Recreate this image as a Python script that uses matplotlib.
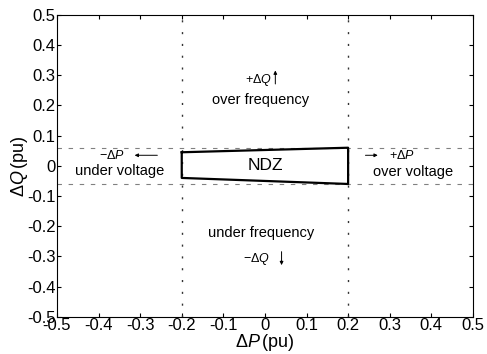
import matplotlib
matplotlib.use("Agg")
import matplotlib.pyplot as plt
import numpy as np

plt.rcParams['font.family'] = ['Liberation Sans', 'DejaVu Sans']
plt.rcParams['mathtext.fontset'] = 'custom'
plt.rcParams['mathtext.it'] = 'Liberation Sans:italic'
plt.rcParams['mathtext.rm'] = 'Liberation Sans'

# NDZ region corners (dP, dQ)
ndz_p = [-0.2, 0.2, 0.2, -0.2, -0.2]
ndz_q = [0.045, 0.06, -0.06, -0.04, 0.045]

# boundary lines
p_limits = [-0.2, 0.2]
q_limits = [0.06, -0.06]

ticks = [-0.5, -0.4, -0.3, -0.2, -0.1, 0, 0.1, 0.2, 0.3, 0.4, 0.5]
tick_labels = ['-0.5', '-0.4', '-0.3', '-0.2', '-0.1', '0', '0.1', '0.2', '0.3', '0.4', '0.5']

fig = plt.figure(figsize=(4.87, 3.54), dpi=100)
ax = fig.add_axes([0.117, 0.105, 0.854, 0.853])

for p in p_limits:
    ax.plot([p, p], [-0.5, 0.5], color='#333333', lw=1.0, linestyle=(0, (1.5, 7)))
for q in q_limits:
    ax.plot([-0.5, 0.5], [q, q], color='gray', lw=0.8, linestyle=(0, (4, 6)))

ax.plot(ndz_p, ndz_q, color='black', lw=1.6)

arrow = dict(arrowstyle='-|>', color='black', lw=0.7, mutation_scale=5)

ax.text(0, 0.0, 'NDZ', ha='center', va='center', fontsize=12.5)
ax.text(-0.015, 0.284, r'$+\Delta Q$', ha='center', va='center', fontsize=9)
ax.annotate('', xy=(0.025, 0.325), xytext=(0.025, 0.262), arrowprops=arrow)
ax.text(-0.01, 0.218, 'over frequency', ha='center', va='center', fontsize=10.5)
ax.text(-0.01, -0.221, 'under frequency', ha='center', va='center', fontsize=10.5)
ax.text(-0.02, -0.307, r'$-\Delta Q$', ha='center', va='center', fontsize=9)
ax.annotate('', xy=(0.04, -0.338), xytext=(0.04, -0.275), arrowprops=arrow)

ax.text(-0.368, 0.035, r'$-\Delta P$', ha='center', va='center', fontsize=9)
ax.annotate('', xy=(-0.32, 0.035), xytext=(-0.252, 0.035), arrowprops=arrow)
ax.text(-0.35, -0.017, 'under voltage', ha='center', va='center', fontsize=10.5)

ax.annotate('', xy=(0.278, 0.035), xytext=(0.235, 0.035), arrowprops=arrow)
ax.text(0.33, 0.035, r'$+\Delta P$', ha='center', va='center', fontsize=9)
ax.text(0.356, -0.022, 'over voltage', ha='center', va='center', fontsize=10.5)

ax.set_xlim(-0.5, 0.5)
ax.set_ylim(-0.5, 0.5)
ax.set_xticks(ticks)
ax.set_xticklabels(tick_labels)
ax.set_yticks(ticks)
ax.set_yticklabels(tick_labels)
ax.tick_params(direction='in', labelsize=12, length=3, pad=1, top=True, right=True)
ax.set_xlabel(r'$\Delta P\,$(pu)', fontsize=13, labelpad=-1)
ax.set_ylabel(r'$\Delta Q\,$(pu)', fontsize=13, labelpad=-2)

fig.savefig('out.png', dpi=100)
